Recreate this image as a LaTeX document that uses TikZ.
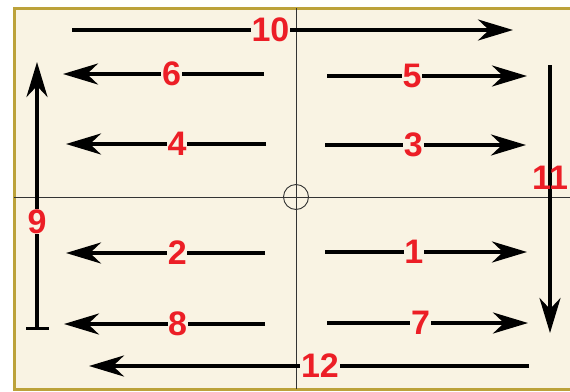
\documentclass[tikz,border=0pt]{standalone}
\usepackage{fontspec}
\setmainfont{Liberation Sans}
\usetikzlibrary{arrows.meta}

\definecolor{cream}{RGB}{249,243,227}
\definecolor{framegold}{RGB}{188,162,58}
\definecolor{numred}{RGB}{236,30,38}

\begin{document}
\begin{tikzpicture}[
    x=1pt, y=-1pt,
    frame/.style={draw=framegold, fill=cream, line width=3pt},
    axis/.style={draw=black!80, line width=0.9pt},
    flow/.style={line width=3.5pt, -{Stealth[length=35pt, width=21pt, inset=11pt]}},
    num/.style={text=numred, font=\fontsize{34}{34}\selectfont\bfseries, fill=cream, inner sep=0.6pt}
]

    \useasboundingbox (0,0) rectangle (570,391);
    \clip (0,0) rectangle (570,391);
    \draw [frame] (14,8) rectangle (590,389);

    % crosshair
    \node [circle, axis, minimum size=25pt, inner sep=0pt] (origin) at (296,197) {};
    \coordinate (top) at (296,8);
    \coordinate (bottom) at (296,389);
    \coordinate (left) at (14,197);
    \coordinate (right) at (575,197);
    \draw [axis] (top) -- (bottom);
    \draw [axis] (left) -- (right);

    % horizontal passes
    \foreach \n/\xa/\ya/\xb/\yb/\p in {
        10/72/30/513/30/0.45,
        6/264/74/63/74/0.46,
        5/327/76/527/76/0.425,
        4/266/144/66/144/0.445,
        3/325/145/526/145/0.44,
        2/265/253/66/253/0.44,
        1/325/252/527/252/0.44,
        8/265/324/64/324/0.435,
        7/327/323/528/323/0.465,
        12/529/366/89/366/0.475} {
        \coordinate (s\n) at (\xa,\ya);
        \coordinate (e\n) at (\xb,\yb);
        \draw [flow] (s\n) -- node [num, pos=\p] (n\n) {\n} (e\n);
    }

    % vertical passes
    \coordinate (s9) at (37,330);
    \coordinate (e9) at (37,62);
    \draw [flow, {Bar[width=23pt]}-{Stealth[length=35pt, width=21pt, inset=11pt]}] (s9) -- node [num, pos=0.405] (n9) {9} (e9);

    \coordinate (s11) at (550,65);
    \coordinate (e11) at (550,333);
    \draw [flow] (s11) -- (e11);
    \node [num, fill=none] (n11) at (550,178) {11};

\end{tikzpicture}
\end{document}
